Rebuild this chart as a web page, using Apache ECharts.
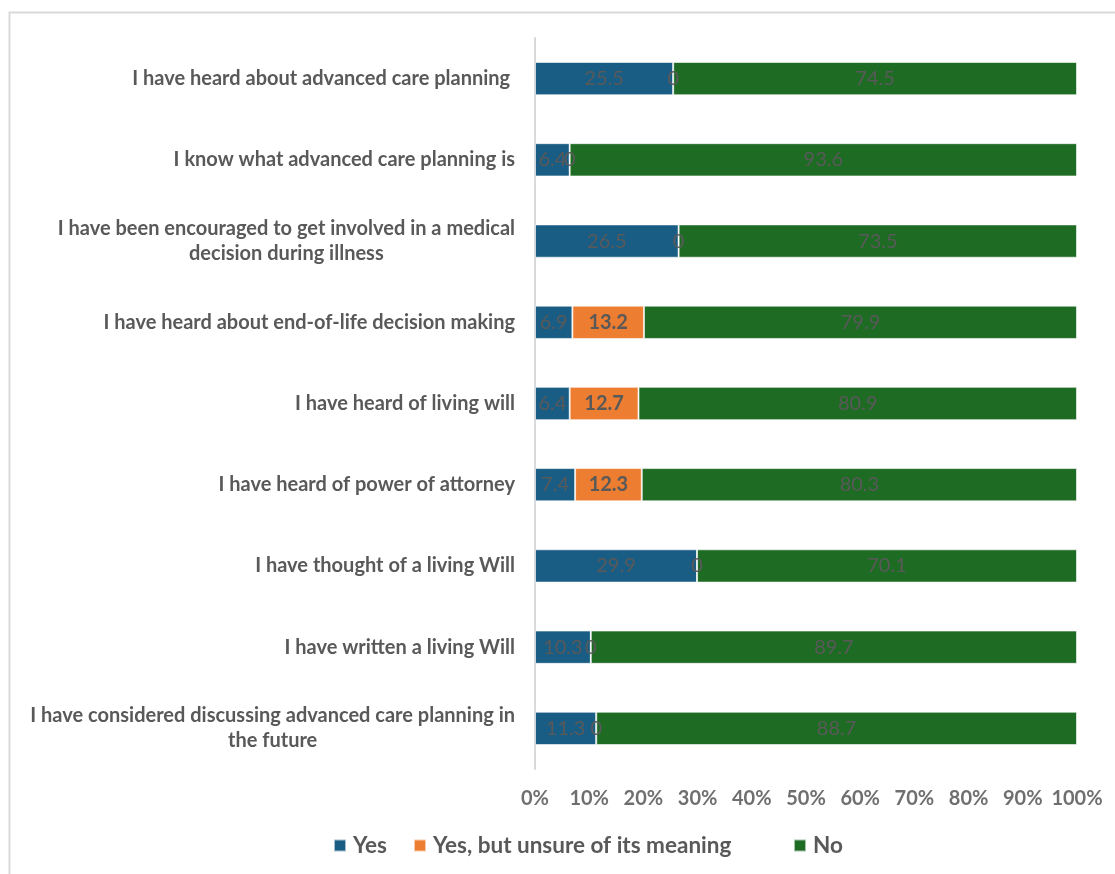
<!DOCTYPE html>
<html>
<head>
<meta charset="utf-8">
<script src="https://cdn.jsdelivr.net/npm/echarts@6/dist/echarts.min.js"></script>
<style>
html,body{margin:0;padding:0;background:#fff;}
#c{width:1115px;height:874px;}
</style>
</head>
<body>
<div id="c"></div>
<script>
var categories = [
  "I have heard about advanced care planning ",
  "I know what advanced care planning is",
  "I have been encouraged to get involved in a medical\ndecision during illness",
  "I have heard about end-of-life decision making",
  "I have heard of living will",
  "I have heard of power of attorney",
  "I have thought of a living Will",
  "I have written a living Will",
  "I have considered discussing advanced care planning in\nthe future"
];
var yesValues    = [25.5, 6.4, 26.5, 6.9, 6.4, 7.4, 29.9, 10.3, 11.3];
var unsureValues = [0, 0, 0, 13.2, 12.7, 12.3, 0, 0, 0];
var noValues     = [74.5, 93.6, 73.5, 79.9, 80.9, 80.3, 70.1, 89.7, 88.7];
var seriesNames  = ["Yes", "Yes, but unsure of its meaning", "No"];
var xTicks = [0, 10, 20, 30, 40, 50, 60, 70, 80, 90, 100];

var FONT = "Lato";
var GRAY = "#595959";
var chart = echarts.init(document.getElementById('c'), null, {renderer: 'canvas'});

function mkSeries(name, data, color, bold) {
  return {
    name: name,
    type: 'bar',
    stack: 'total',
    data: data,
    barWidth: '41%',
    itemStyle: {color: color, borderColor: 'rgba(255,255,255,0.6)', borderWidth: 1},
    label: {
      show: true,
      position: 'inside',
      color: GRAY,
      fontFamily: FONT,
      fontSize: 20,
      fontWeight: bold ? 'bold' : 'normal',
      formatter: function (p) {
        if (p.value === 0) return '{z|0}';
        return String(p.value);
      },
      rich: {z: {fontFamily: FONT, fontSize: 20, fontWeight: 'normal', color: GRAY}}
    },
    emphasis: {disabled: true}
  };
}

function mkLegend(name, left) {
  return {
    data: [name],
    bottom: 17,
    left: left,
    itemWidth: 12,
    itemHeight: 12,
    icon: 'rect',
    padding: 0,
    selectedMode: false,
    textStyle: {color: GRAY, fontFamily: FONT, fontSize: 22.5, fontWeight: 'bold', padding: [0, 0, 0, 2]}
  };
}

chart.setOption({
  animation: false,
  backgroundColor: '#ffffff',
  graphic: [{
    type: 'rect',
    shape: {x: 9.5, y: 12.5, width: 1200, height: 1000},
    style: {fill: 'none', stroke: '#d9d9d9', lineWidth: 2},
    silent: true
  }],
  grid: {left: 535, right: 38, top: 38, bottom: 105, containLabel: false},
  legend: [
    mkLegend(seriesNames[0], 333),
    mkLegend(seriesNames[1], 413),
    mkLegend(seriesNames[2], 793)
  ],
  xAxis: {
    type: 'value',
    min: 0,
    max: 100,
    interval: 10,
    axisLine: {show: false},
    axisTick: {show: false},
    splitLine: {show: false},
    axisLabel: {
      margin: 20,
      color: '#6f6f6f',
      fontFamily: FONT,
      fontSize: 20,
      fontWeight: 'bold',
      formatter: function (v) { return xTicks.indexOf(v) >= 0 ? v + '%' : ''; }
    }
  },
  yAxis: {
    type: 'category',
    inverse: true,
    data: categories,
    axisLine: {show: true, lineStyle: {color: '#d9d9d9', width: 2}},
    axisTick: {show: false},
    axisLabel: {
      margin: 20,
      color: GRAY,
      fontFamily: FONT,
      fontSize: 20,
      fontWeight: 'bold',
      lineHeight: 25,
      formatter: function (v) {
        return v.split('\n').map(function (l) { return '{a|' + l + '}'; }).join('\n');
      },
      rich: {a: {align: 'center', fontFamily: FONT, fontSize: 20, fontWeight: 'bold', color: GRAY, lineHeight: 25}}
    }
  },
  series: [
    mkSeries(seriesNames[0], yesValues, '#1a5d84', false),
    mkSeries(seriesNames[1], unsureValues, '#ed7d31', true),
    mkSeries(seriesNames[2], noValues, '#1e6b24', false)
  ]
});
</script>
</body>
</html>
